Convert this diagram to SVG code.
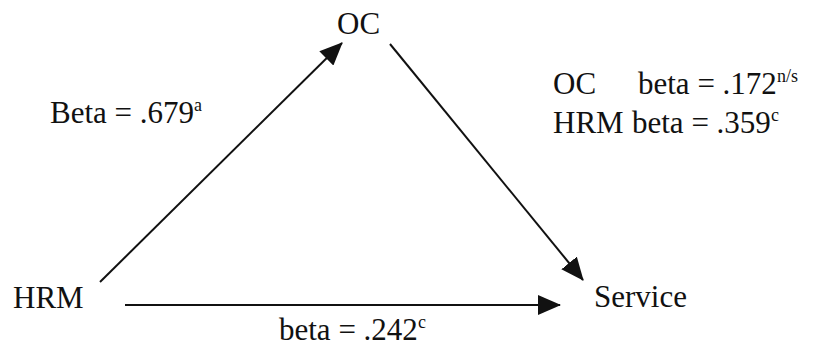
<svg xmlns="http://www.w3.org/2000/svg" width="815" height="360" viewBox="0 0 815 360">
<defs>
<style>
text{font-size:31px;fill:#111}
.sup{font-size:18px}
.c{stroke:#111;stroke-width:2;fill:none}
</style>
<marker id="arr" viewBox="0 0 23 20" refX="22" refY="10" markerWidth="23" markerHeight="20" markerUnits="userSpaceOnUse" orient="auto">
<path d="M0,0 L23,10 L0,20 Z" fill="#111"/>
</marker>
</defs>
<rect width="815" height="360" fill="#fff"/>
<g id="connectors">
<line class="c" x1="100" y1="282" x2="342" y2="43" marker-end="url(#arr)"/>
<line class="c" x1="390" y1="44" x2="583" y2="280" marker-end="url(#arr)"/>
<line class="c" x1="125" y1="305" x2="560" y2="305" marker-end="url(#arr)"/>
</g>
<g id="node-oc"><text x="337" y="34" font-family="'Liberation Serif', serif">OC</text></g>
<g id="node-hrm"><text x="13" y="308" font-family="'Liberation Serif', serif">HRM</text></g>
<g id="node-service"><text x="594" y="307" font-family="'Liberation Serif', serif">Service</text></g>
<g id="label-hrm-oc"><text x="50" y="123" font-family="'Liberation Serif', serif">Beta = .679<tspan class="sup" dy="-12">a</tspan></text></g>
<g id="label-hrm-service"><text x="279" y="340" font-family="'Liberation Serif', serif">beta = .242<tspan class="sup" dy="-12">c</tspan></text></g>
<g id="label-regression">
<text x="553" y="94" font-family="'Liberation Serif', serif">OC<tspan x="638">beta = .172</tspan><tspan class="sup" dy="-12">n/s</tspan></text>
<text x="553" y="133" font-family="'Liberation Serif', serif">HRM<tspan x="632">beta = .359</tspan><tspan class="sup" dy="-12">c</tspan></text>
</g>
</svg>
